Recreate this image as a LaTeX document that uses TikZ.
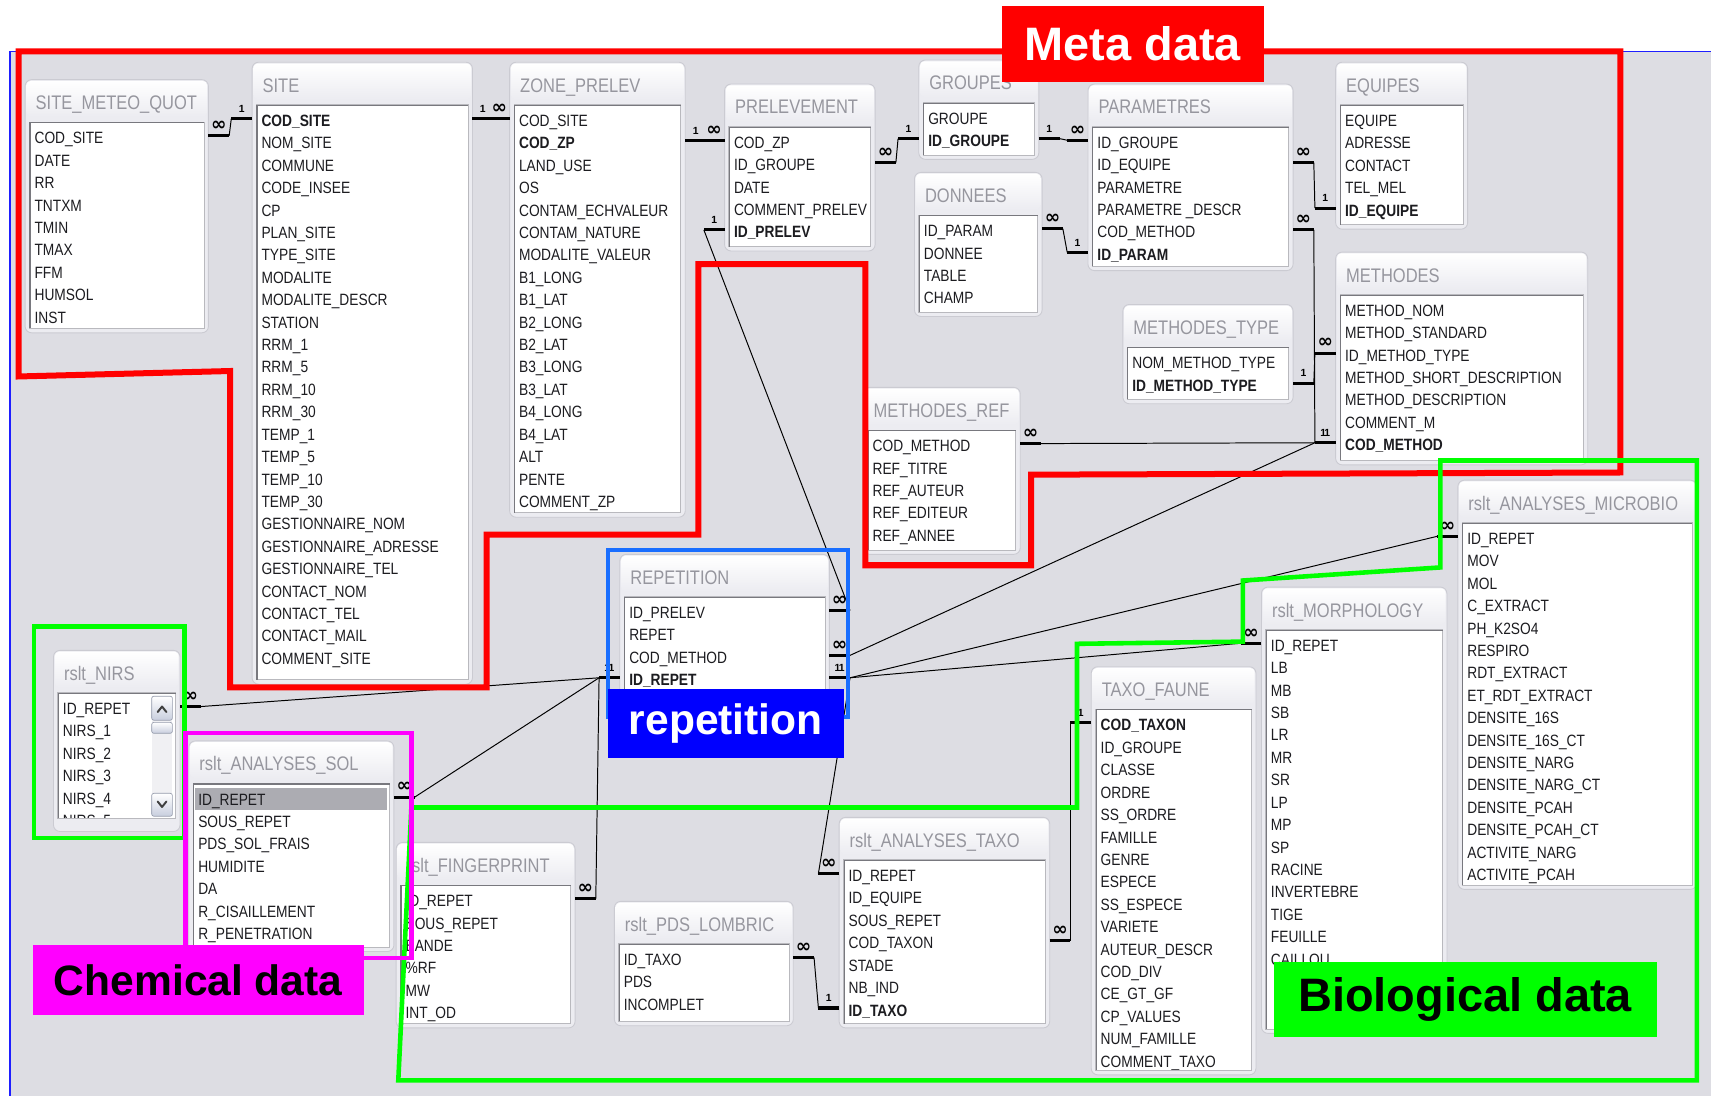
\documentclass[tikz,border=0pt]{standalone}
\usepackage{fontspec}
\newfontfamily\tblfont[FakeStretch=0.84]{Liberation Sans}
\newfontfamily\lblfont{Liberation Sans}
\newfontfamily\symfont{DejaVu Sans}

\definecolor{winbg}{RGB}{221,221,227}
\definecolor{framefill}{RGB}{236,236,241}
\definecolor{frameedge}{RGB}{203,203,210}
\definecolor{listedge}{RGB}{185,185,190}
\definecolor{listdark}{RGB}{120,120,126}
\definecolor{ttlgray}{RGB}{150,150,158}
\definecolor{rowtext}{RGB}{28,28,32}
\definecolor{selrow}{RGB}{172,172,178}
\definecolor{sbar}{RGB}{200,206,222}
\definecolor{sbaredge}{RGB}{150,156,172}
\definecolor{metared}{RGB}{255,0,0}
\definecolor{biogreen}{RGB}{0,255,0}
\definecolor{chemmag}{RGB}{255,0,255}
\definecolor{repblue}{RGB}{25,110,255}
\definecolor{replabel}{RGB}{0,0,255}
\definecolor{winblue}{RGB}{30,30,255}

\tikzset{
  tabframe/.style={draw=frameedge, fill=framefill, rounded corners=6pt, line width=0.8pt, inner sep=0pt, outer sep=0pt},
  ttl/.style={anchor=west, inner sep=0pt, text=ttlgray, font=\tblfont\fontsize{18}{20}\selectfont, text height=12.9pt, text depth=0pt},
  row/.style={anchor=west, inner sep=0pt, text=rowtext, font=\tblfont\fontsize{15}{18}\selectfont, text height=14.7pt, text depth=0pt},
  stubline/.style={line width=2.8pt, black},
  rel/.style={line width=0.9pt, black},
  card/.style={inner sep=0pt, anchor=center, yshift=9pt},
  metaline/.style={draw=metared, line width=5.5pt, line join=miter},
  bioline/.style={draw=biogreen, line width=4.2pt, line join=miter},
  chemline/.style={draw=chemmag, line width=4pt},
  repline/.style={draw=repblue, line width=4pt},
  tag/.style={inner sep=0pt, anchor=north west, font=\lblfont\bfseries},
}

% cardinality marks
\newcommand\cmany{{\symfont\bfseries\fontsize{17}{17}\selectfont ∞}}
\newcommand\cone{{\lblfont\bfseries\fontsize{9.5}{10}\selectfont 1}}
\newcommand\cones{{\lblfont\bfseries\fontsize{9.5}{10}\selectfont 1\kern-1.5pt1}}

% table: name, x1, y1, x2, y2, title, fields
\newcommand\listpad{4}
\newcommand\listextra{}
\newcommand{\dbtable}[7]{%
  \node[tabframe, minimum width={#4-#2}, minimum height={#5-#3}, anchor=north west] (#1) at (#2,#3) {};
  \shade[top color=white, bottom color=framefill, rounded corners=4pt] (#2+1.2,#3+1.2) rectangle (#4-1.2,#3+34);
  \fill[white] (#2+4,#3+39) rectangle (#4-4,#5-\listpad);
  \listextra
  \begin{scope}
    \clip (#2+4,#3+39) rectangle (#4-4,#5-\listpad);
    \foreach \r [count=\i from 0] in {#7} {
      \node[row] (#1-\i) at (#2+8.5,#3+53.5+\i*20.54-2) {\r};
    }
  \end{scope}
  \draw[listedge, line width=0.8pt] (#2+4,#3+39) rectangle (#4-4,#5-\listpad);
  \draw[listdark, line width=1pt] (#2+4.5,#5-\listpad) -- (#2+4.5,#3+39.5) -- (#4-4,#3+39.5);
  \node[ttl] (#1-t) at (#2+9.5,#3+21) {#6};
}

% relationship end: coordinate name, edge point, direction, mark
\newcommand{\stubend}[4]{%
  \draw[stubline] #2 -- node[card, midway] {#4} ++(#3*19,0) coordinate (#1);
}

\begin{document}
\begin{tikzpicture}[x=1pt, y=-1pt]
\useasboundingbox (0,0) rectangle (1568,1004);
\fill[white] (0,0) rectangle (1568,1004);
\fill[winbg] (9,47) rectangle (1568,1004);
\draw[winblue, line width=1.3pt] (9,1004) -- (9,47) -- (1568,47);

% ---------- tables ----------
\dbtable{METEO}{23}{73}{191}{305}{SITE\_METEO\_QUOT}{COD\_SITE,DATE,RR,TNTXM,TMIN,TMAX,FFM,HUMSOL,INST}
\dbtable{SITE}{231}{57}{433}{627}{SITE}{\textbf{COD\_SITE},NOM\_SITE,COMMUNE,CODE\_INSEE,CP,PLAN\_SITE,TYPE\_SITE,MODALITE,MODALITE\_DESCR,STATION,RRM\_1,RRM\_5,RRM\_10,RRM\_30,TEMP\_1,TEMP\_5,TEMP\_10,TEMP\_30,GESTIONNAIRE\_NOM,GESTIONNAIRE\_ADRESSE,GESTIONNAIRE\_TEL,CONTACT\_NOM,CONTACT\_TEL,CONTACT\_MAIL,COMMENT\_SITE}
\dbtable{ZONE}{467}{57}{628}{474}{ZONE\_PRELEV}{COD\_SITE,\textbf{COD\_ZP},LAND\_USE,OS,CONTAM\_ECHVALEUR,CONTAM\_NATURE,MODALITE\_VALEUR,B1\_LONG,B1\_LAT,B2\_LONG,B2\_LAT,B3\_LONG,B3\_LAT,B4\_LONG,B4\_LAT,ALT,PENTE,COMMENT\_ZP}
\dbtable{PREL}{664}{77}{802}{230}{PRELEVEMENT}{COD\_ZP,ID\_GROUPE,DATE,COMMENT\_PRELEV,\textbf{ID\_PRELEV}}
\dbtable{GRP}{842}{55}{952}{146}{GROUPES}{GROUPE,\textbf{ID\_GROUPE}}
\dbtable{DON}{838}{158}{955}{290}{DONNEES}{ID\_PARAM,DONNEE,TABLE,CHAMP}
\dbtable{PARAM}{997}{77}{1185}{248}{PARAMETRES}{ID\_GROUPE,ID\_EQUIPE,PARAMETRE,PARAMETRE \_DESCR,COD\_METHOD,\textbf{ID\_PARAM}}
\dbtable{EQ}{1224}{57}{1345}{210}{EQUIPES}{EQUIPE,ADRESSE,CONTACT,TEL\_MEL,\textbf{ID\_EQUIPE}}
\dbtable{METH}{1224}{231}{1455}{426}{METHODES}{METHOD\_NOM,METHOD\_STANDARD,ID\_METHOD\_TYPE,METHOD\_SHORT\_DESCRIPTION,METHOD\_DESCRIPTION,COMMENT\_M,\textbf{COD\_METHOD}}
\dbtable{MTYPE}{1029}{279}{1185}{370}{METHODES\_TYPE}{NOM\_METHOD\_TYPE,\textbf{ID\_METHOD\_TYPE}}
\dbtable{MREF}{791}{355}{935}{508}{METHODES\_REF}{COD\_METHOD,REF\_TITRE,REF\_AUTEUR,REF\_EDITEUR,REF\_ANNEE}
\dbtable{REP}{568}{508}{760}{660}{REPETITION}{ID\_PRELEV,REPET,COD\_METHOD,\textbf{ID\_REPET}}
\renewcommand\listpad{12}
\dbtable{NIRS}{49}{596}{165}{762}{rslt\_NIRS}{ID\_REPET,NIRS\_1,NIRS\_2,NIRS\_3,NIRS\_4,NIRS\_5}
\renewcommand\listpad{4}
\renewcommand\listextra{\fill[selrow] (179,722) rectangle (355,742);}
\dbtable{SOL}{173}{679}{361}{872}{rslt\_ANALYSES\_SOL}{ID\_REPET,SOUS\_REPET,PDS\_SOL\_FRAIS,HUMIDITE,DA,R\_CISAILLEMENT,R\_PENETRATION}
\renewcommand\listextra{}
\dbtable{FING}{363}{772}{527}{942}{rslt\_FINGERPRINT}{ID\_REPET,SOUS\_REPET,BANDE,\%RF,MW,INT\_OD}
\dbtable{LOMB}{563}{826}{727}{940}{rslt\_PDS\_LOMBRIC}{ID\_TAXO,PDS,INCOMPLET}
\dbtable{ATAXO}{769}{749}{962}{942}{rslt\_ANALYSES\_TAXO}{ID\_REPET,ID\_EQUIPE,SOUS\_REPET,COD\_TAXON,STADE,NB\_IND,\textbf{ID\_TAXO}}
\dbtable{TAXOF}{1000}{611}{1151}{985}{TAXO\_FAUNE}{\textbf{COD\_TAXON},ID\_GROUPE,CLASSE,ORDRE,SS\_ORDRE,FAMILLE,GENRE,ESPECE,SS\_ESPECE,VARIETE,AUTEUR\_DESCR,COD\_DIV,CE\_GT\_GF,CP\_VALUES,NUM\_FAMILLE,COMMENT\_TAXO}
\dbtable{MORPH}{1156}{538}{1326}{947}{rslt\_MORPHOLOGY}{ID\_REPET,LB,MB,SB,LR,MR,SR,LP,MP,SP,RACINE,INVERTEBRE,TIGE,FEUILLE,CAILLOU}
\dbtable{MICRO}{1336}{440}{1555}{815}{rslt\_ANALYSES\_MICROBIO}{ID\_REPET,MOV,MOL,C\_EXTRACT,PH\_K2SO4,RESPIRO,RDT\_EXTRACT,ET\_RDT\_EXTRACT,DENSITE\_16S,DENSITE\_16S\_CT,DENSITE\_NARG,DENSITE\_NARG\_CT,DENSITE\_PCAH,DENSITE\_PCAH\_CT,ACTIVITE\_NARG,ACTIVITE\_PCAH}

% scroll bar of rslt_NIRS
\fill[white!55!winbg] (139,638) rectangle (158,748);
\foreach \ya/\yb in {638/660, 662/672, 727/748}
  \shadedraw[top color=white, bottom color=sbar, draw=sbaredge, line width=0.6pt, rounded corners=2pt] (139,\ya) rectangle (158,\yb);
\draw[line width=1.8pt, line cap=round, line join=round, black!75] (144.5,652.5) -- (148.5,647.5) -- (152.5,652.5);
\draw[line width=1.8pt, line cap=round, line join=round, black!75] (144.5,734.5) -- (148.5,739.5) -- (152.5,734.5);

% ---------- relationships ----------
\stubend{a1}{(METEO.east |- METEO-0.west)}{1}{\cmany}
\stubend{b1}{(SITE.west |- SITE-0.west)}{-1}{\cone}
\stubend{a2}{(SITE.east |- SITE-0.west)}{1}{\cone}
\stubend{b2}{(ZONE.west |- ZONE-0.west)}{-1}{\cmany}
\stubend{a3}{(ZONE.east |- ZONE-1.west)}{1}{\cone}
\stubend{b3}{(PREL.west |- PREL-0.west)}{-1}{\cmany}
\stubend{a4}{(PREL.east |- PREL-1.west)}{1}{\cmany}
\stubend{b4}{(GRP.west |- GRP-1.west)}{-1}{\cone}
\stubend{a5}{(GRP.east |- GRP-1.west)}{1}{\cone}
\stubend{b5}{(PARAM.west |- PARAM-0.west)}{-1}{\cmany}
\stubend{a6}{(DON.east |- DON-0.west)}{1}{\cmany}
\stubend{b6}{(PARAM.west |- PARAM-5.west)}{-1}{\cone}
\stubend{a7}{(PARAM.east |- PARAM-1.west)}{1}{\cmany}
\stubend{b7}{(EQ.west |- EQ-4.west)}{-1}{\cone}
\stubend{a8}{(PARAM.east |- PARAM-4.west)}{1}{\cmany}
\stubend{mcod}{(METH.west |- METH-6.west)}{-1}{\cones}
\stubend{a9}{(MTYPE.east |- MTYPE-1.west)}{1}{\cone}
\stubend{b9}{(METH.west |- METH-2.west)}{-1}{\cmany}
\stubend{a10}{(MREF.east |- MREF-0.west)}{1}{\cmany}
\stubend{a11}{(PREL.west |- PREL-4.west)}{-1}{\cone}
\stubend{b11}{(REP.east |- REP-0.west)}{1}{\cmany}
\stubend{a12}{(REP.east |- REP-2.west)}{1}{\cmany}
\stubend{repR}{(REP.east |- REP-3.west)}{1}{\cones}
\stubend{repL}{(REP.west |- REP-3.west)}{-1}{\cones}
\stubend{micro}{(MICRO.west |- MICRO-0.west)}{-1}{\cmany}
\stubend{morph}{(MORPH.west |- MORPH-0.west)}{-1}{\cmany}
\stubend{ataxo}{(ATAXO.west |- ATAXO-0.west)}{-1}{\cmany}
\stubend{nirs}{(NIRS.east |- NIRS-0.west)}{1}{\cmany}
\stubend{sol}{(SOL.east |- SOL-0.west)}{1}{\cmany}
\stubend{fing}{(FING.east |- FING-0.west)}{1}{\cmany}
\stubend{a15}{(LOMB.east |- LOMB-0.west)}{1}{\cmany}
\stubend{b15}{(ATAXO.west |- ATAXO-6.west)}{-1}{\cone}
\stubend{a16}{(ATAXO.east |- ATAXO-3.west)}{1}{\cmany}
\stubend{b16}{(TAXOF.west |- TAXOF-0.west)}{-1}{\cone}

\draw[rel] (a1) -- (b1);
\draw[rel] (a2) -- (b2);
\draw[rel] (a3) -- (b3);
\draw[rel] (a4) -- (b4);
\draw[rel] (a5) -- (b5);
\draw[rel] (a6) -- (b6);
\draw[rel] (a7) -- (b7);
\draw[rel] (a8) -- (mcod);
\draw[rel] (a9) -- (b9);
\draw[rel] (a10) -- (mcod);
\draw[rel] (a11) -- (b11);
\draw[rel] (a12) -- (mcod);
\draw[rel] (repR) -- (micro);
\draw[rel] (repR) -- (morph);
\draw[rel] (repR) -- (ataxo);
\draw[rel] (repL) -- (nirs);
\draw[rel] (repL) -- (sol);
\draw[rel] (repL) -- (fing);
\draw[rel] (a15) -- (b15);
\draw[rel] (a16) -- (b16);

% ---------- data groups ----------
\draw[metaline] (17,47) -- (1485,47) -- (1485,433) -- (945,435) -- (945,518) -- (793,518) -- (793,242) -- (640,242) -- (640,490) -- (446,490) -- (446,630) -- (211,630) -- (211,340) -- (17,345) -- cycle;
\draw[bioline] (365,990) -- (1555,990) -- (1555,422) -- (1320,422) -- (1320,520) -- (1139,532) -- (1139,588) -- (987,590) -- (987,740) -- (377,740) -- cycle;
\draw[bioline] (31,574) rectangle (169,768);
\draw[chemline] (170,672) rectangle (377,878);
\draw[repline] (557,504) rectangle (777,657);

\node[tag, fill=metared, text=white, minimum width=240pt, minimum height=70pt, font=\lblfont\bfseries\fontsize{43}{43}\selectfont] (metatag) at (918,5) {Meta data};
\node[tag, fill=chemmag, text=black, minimum width=303pt, minimum height=64pt, font=\lblfont\bfseries\fontsize{39}{39}\selectfont] (chemtag) at (30,866) {Chemical data};
\node[tag, fill=replabel, text=white, minimum width=216pt, minimum height=63pt, font=\lblfont\bfseries\fontsize{39}{39}\selectfont] (reptag) at (557,631) {repetition};
\node[tag, fill=biogreen, text=black, minimum width=351pt, minimum height=69pt, font=\lblfont\bfseries\fontsize{43}{43}\selectfont] (biotag) at (1167,881) {Biological data};
\end{tikzpicture}
\end{document}
